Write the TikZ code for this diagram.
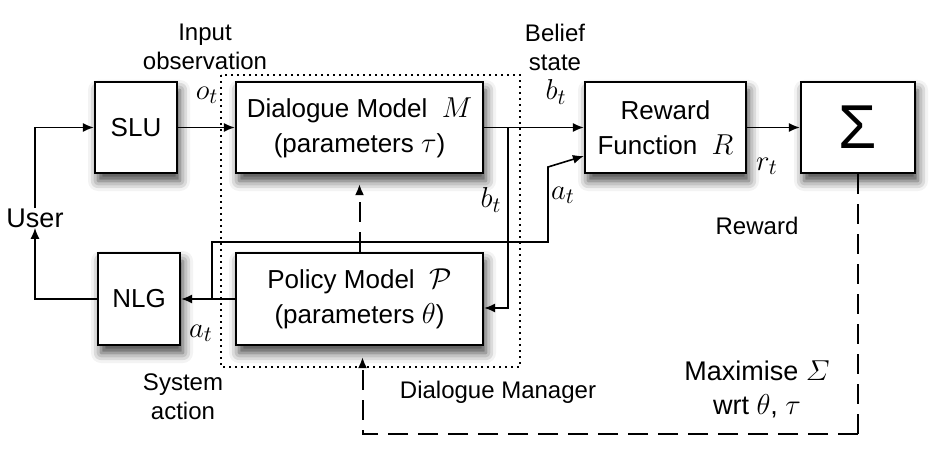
\documentclass[tikz,border=0pt]{standalone}
\usepackage{amsmath}
\usepackage{fontspec}
\setmainfont{Liberation Sans}
\usetikzlibrary{arrows.meta,shadows.blur,calc}
\newcommand{\mybigmath}[1]{{\fontsize{15.5}{17.5}\selectfont$#1$}}
\begin{document}
\begin{tikzpicture}[x=0.5pt,y=-0.5pt,
  box/.style={draw, line width=1.1pt, fill=white, inner sep=0pt, align=center,
    font=\fontsize{13}{17.5}\selectfont,
    blur shadow={shadow xshift=1.5pt, shadow yshift=-4pt, shadow blur radius=5pt, shadow opacity=75}},
  conn/.style={line width=0.8pt, -{Latex[length=5.5pt,width=4.5pt]}},
  dashconn/.style={line width=1pt, dash pattern=on 10pt off 5pt},
  lbl/.style={font=\fontsize{12}{14.5}\selectfont, align=center, inner sep=0pt},
  mlbl/.style={font=\fontsize{15.5}{17}\selectfont, inner sep=0pt},
]
\useasboundingbox (0,0) rectangle (940,459);
% dotted dialogue manager frame
\draw[line width=0.9pt, dash pattern=on 1pt off 2pt] (221,75) rectangle (520,367);

% boxes
\node[box, minimum width=41pt, minimum height=45.5pt] (SLU) at (136,127.5) {SLU};
\node[box, minimum width=123.5pt, minimum height=45.5pt] (DM) at (359.5,127.5) {Dialogue Model\ \ \mybigmath{M}\\(parameters \mybigmath{\tau})};
\node[box, minimum width=80.5pt, minimum height=45.5pt] (RF) at (665.5,127.5) {Reward\\Function\ \ \mybigmath{R}};
\node[box, minimum width=57pt, minimum height=45.5pt, font=\fontsize{31}{32}\selectfont] (SIG) at (858,127.5) {Σ};
\node[box, minimum width=41pt, minimum height=46pt] (NLG) at (139,299) {NLG};
\node[box, minimum width=123.5pt, minimum height=46pt] (PM) at (359.5,299) {Policy Model\ \ \mybigmath{\mathcal{P}}\\(parameters \mybigmath{\theta})};

% labels
\node[inner sep=0pt, font=\fontsize{13.5}{15}\selectfont] (USER) at (35,218) {User};
\node[lbl] (INOBS) at (205,47) {Input\\observation};
\node[mlbl] (OT) at (207,95) {$o_t$};
\node[lbl] (BEL) at (555,47) {Belief\\state};
\node[mlbl] (BT1) at (556,92) {$b_t$};
\node[mlbl] (BT2) at (491,200) {$b_t$};
\node[mlbl] (AT1) at (563,195) {$a_t$};
\node[mlbl] (RT) at (767,166) {$r_t$};
\node[lbl] (REW) at (757,226) {Reward};
\node[mlbl] (AT2) at (201,333) {$a_t$};
\node[lbl] (SYS) at (183,397) {System\\action};
\node[lbl] (DMAN) at (498,392) {Dialogue Manager};
\node[inner sep=0pt, align=center, font=\fontsize{13.5}{17}\selectfont] (MAX) at (757,389) {Maximise \mybigmath{\varSigma}\\wrt \mybigmath{\theta}, \mybigmath{\tau}};

% coordinates
\coordinate (br) at (508,127.5);
\coordinate (ajoin) at (212,299);
\coordinate (aup) at (548,242);
\coordinate (abend) at (548,167);
\coordinate (sigcorner) at (858,434);

% connectors
\draw[conn] (USER.north) |- (SLU.west);
\draw[conn] (NLG.west) -| (USER.south);
\draw[conn] (SLU.east) -- (DM.west);
\draw[conn] (DM.east) -- (RF.west);
\draw[conn] (br) |- ($(PM.east)+(0,9)$);
\draw[conn] (PM.west) -- (NLG.east);
\draw[conn] (ajoin) |- (aup) -- (abend) -- ($(RF.west)+(0,28.5)$);
\draw[conn] (RF.east) -- (SIG.west);
\draw[dashconn, -{Latex[length=5.5pt,width=4.5pt]}, shorten >=5pt] (PM.north) -- (DM.south);
\draw[dashconn] (SIG.south) -- (sigcorner);
\draw[dashconn, -{Latex[length=5.5pt,width=4.5pt]}, shorten >=5.5pt] (sigcorner) -| ($(PM.south)+(3,0)$);
\end{tikzpicture}
\end{document}
